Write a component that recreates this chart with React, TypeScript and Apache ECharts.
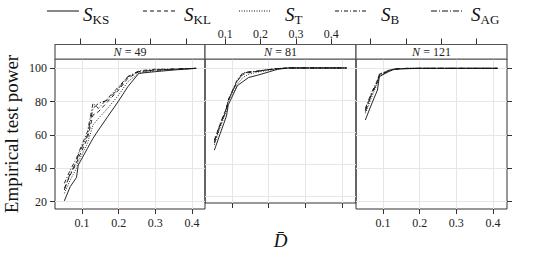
import React, { useEffect, useRef } from "react";
import * as echarts from "echarts";

// D-bar values (x) shared by all series
const dValues = [0.052, 0.068, 0.085, 0.09, 0.115, 0.13, 0.145, 0.17, 0.2, 0.225, 0.255, 0.3, 0.35, 0.412];

// Tick values
const xTicks = [0.1, 0.2, 0.3, 0.4];
const yTicks = [20, 40, 60, 80, 100];

// Panels
const panelLabels = ["49", "81", "121"];

// Series names (subscripts of S)
const seriesKeys = ["KS", "KL", "T", "B", "AG"];

// N = 49
const n49KS = [20.5, 29, 34.5, 42, 52, 58, 63, 71, 80.5, 89, 97, 98, 99, 100];
const n49KL = [28, 36, 43, 46, 58, 72, 74, 80, 87, 94, 98, 99, 99.5, 100];
const n49T = [25, 33, 40, 44, 55, 66, 70, 76, 84, 92, 97, 98.5, 99.5, 100];
const n49B = [31, 39, 46, 49, 62, 79, 76, 82, 89, 95, 98.5, 99.5, 99.5, 100];
const n49AG = [27, 37, 44, 48, 60, 76, 79, 81, 88, 95, 98, 99, 99.5, 100];

// N = 81
const n81KS = [48.6, 59, 70, 77, 89, 91.5, 94, 95.5, 97.5, 99.2, 100, 100, 100, 100];
const n81KL = [55, 65, 75, 80, 92, 96, 97, 98, 99, 99.5, 100, 100, 100, 100];
const n81T = [52, 63, 73, 79, 90, 94, 96, 97.5, 98.5, 99.5, 100, 100, 100, 100];
const n81B = [53, 64, 74, 80, 93, 97, 97.5, 98, 99, 99.7, 100, 100, 100, 100];
const n81AG = [54, 65, 75, 80, 92, 96.5, 97.5, 98, 99, 99.5, 100, 100, 100, 100];

// N = 121
const n121KS = [69, 78, 87, 95, 98, 99.4, 99.6, 99.8, 100, 100, 100, 100, 100, 100];
const n121KL = [75, 84, 92, 96, 98.5, 99.5, 99.8, 100, 100, 100, 100, 100, 100, 100];
const n121T = [73, 82, 91, 95.5, 98, 99.3, 99.7, 99.9, 100, 100, 100, 100, 100, 100];
const n121B = [76, 85, 93, 96.5, 98.8, 99.6, 99.8, 100, 100, 100, 100, 100, 100, 100];
const n121AG = [74, 84, 92, 96, 98.5, 99.5, 99.8, 100, 100, 100, 100, 100, 100, 100];

const panelData = [
  [n49KS, n49KL, n49T, n49B, n49AG],
  [n81KS, n81KL, n81T, n81B, n81AG],
  [n121KS, n121KL, n121T, n121B, n121AG],
];

const FONT = "'Liberation Serif', 'DejaVu Serif', serif";
const dashes: any[] = ["solid", [4, 3], [1, 1.5], [4, 2, 1, 2], [6, 2, 1, 2]];

export default function App() {
  const ref = useRef<HTMLDivElement>(null);
  useEffect(() => {
    if (!ref.current) return;
    const chart = echarts.init(ref.current, null, { renderer: "svg" });
    const lefts = [55, 205, 356];
    const widths = [150, 151, 151];
    const top = 59;
    const height = 150;
    const pxPerUnit = 367;
    const bottomMin = 0.0265;
    const topMins = [0.0292, 0.0425, 0.0584];
    const topPx = 353;

    const grids = lefts.map((l, i) => ({
      left: l,
      top,
      width: widths[i],
      height,
      show: true,
      borderColor: "#333",
      borderWidth: 1,
    }));

    const xAxes: any[] = [];
    lefts.forEach((l, i) => {
      xAxes.push({
        type: "value",
        gridIndex: i,
        position: "bottom",
        min: bottomMin,
        max: bottomMin + widths[i] / pxPerUnit,
        axisLine: { show: false },
        axisTick: { show: true, length: 5, customValues: xTicks, lineStyle: { color: "#333" } },
        axisLabel: {
          show: i !== 1,
          customValues: xTicks,
          formatter: (v: number) => v.toFixed(1),
          fontFamily: FONT,
          fontSize: 12,
          color: "#222",
          margin: 8,
        },
        splitLine: { show: true, lineStyle: { color: "#e6e6e6", width: 1 } },
        name: i === 1 ? "D\u0304" : "",
        nameLocation: "middle",
        nameGap: 28,
        nameTextStyle: { fontFamily: FONT, fontSize: 19, fontStyle: "italic", color: "#111" },
      });
    });
    lefts.forEach((l, i) => {
      xAxes.push({
        type: "value",
        gridIndex: i,
        position: "top",
        offset: 14.5,
        min: topMins[i],
        max: topMins[i] + widths[i] / topPx,
        axisLine: { show: false },
        axisTick: { show: true, length: 6, customValues: xTicks, lineStyle: { color: "#333" } },
        axisLabel: {
          show: i === 1,
          customValues: xTicks,
          formatter: (v: number) => v.toFixed(1),
          fontFamily: FONT,
          fontSize: 12,
          color: "#222",
          margin: 5,
        },
        splitLine: { show: false },
      });
    });

    const yAxes = lefts.map((l, i) => ({
      type: "value",
      gridIndex: i,
      position: i === 2 ? "right" : "left",
      min: 15.6,
      max: 105.6,
      axisLine: { show: false },
      axisTick: { show: i !== 1, length: 5, customValues: yTicks, lineStyle: { color: "#333" } },
      axisLabel: {
        show: i === 0,
        customValues: yTicks,
        fontFamily: FONT,
        fontSize: 12,
        color: "#222",
        margin: 8,
      },
      splitLine: { show: true, lineStyle: { color: "#e6e6e6", width: 1 } },
      name: i === 0 ? "Empirical test power" : "",
      nameLocation: "middle",
      nameGap: 34,
      nameTextStyle: { fontFamily: FONT, fontSize: 19, color: "#111" },
    }));

    const series: any[] = [];
    panelData.forEach((arrs, p) => {
      arrs.forEach((arr, s) => {
        series.push({
          type: "line",
          name: "S" + seriesKeys[s],
          xAxisIndex: p,
          yAxisIndex: p,
          data: dValues.map((d, j) => [d, arr[j]]),
          symbol: "none",
          showSymbol: false,
          lineStyle: { color: "#111", width: 0.9, type: dashes[s] },
          z: 3,
        });
      });
    });

    const graphics: any[] = [];
    // strips
    lefts.forEach((l, i) => {
      graphics.push({
        type: "rect",
        shape: { x: l, y: 44.5, width: widths[i], height: 14.5 },
        style: { fill: "#fff", stroke: "#555", lineWidth: 1.2 },
        z: 10,
      });
      graphics.push({
        type: "text",
        x: l + widths[i] / 2,
        y: 52,
        style: {
          text: "{i|N}{r| = " + panelLabels[i] + "}",
          rich: {
            i: { fontStyle: "italic", fontFamily: FONT, fontSize: 12, fill: "#222" },
            r: { fontFamily: FONT, fontSize: 12, fill: "#222" },
          },
          fontFamily: FONT,
          fontSize: 12,
          fill: "#222",
          align: "center",
          verticalAlign: "middle",
        },
        z: 11,
      });
    });
    // legend
    const legLines = [[47, 79], [143, 175], [239, 271], [335, 367], [431, 463]];
    const legTextX = [83, 184, 285, 381, 471];
    seriesKeys.forEach((k, s) => {
      const d = dashes[s];
      graphics.push({
        type: "line",
        shape: { x1: legLines[s][0], y1: 11, x2: legLines[s][1], y2: 11 },
        style: { stroke: "#111", lineWidth: 1, lineDash: d === "solid" ? null : d },
      });
      graphics.push({
        type: "text",
        x: legTextX[s],
        y: 14,
        style: {
          text: "{s|S}{b|" + k + "}",
          rich: {
            s: { fontFamily: FONT, fontSize: 19, fontStyle: "italic", fill: "#111", verticalAlign: "bottom" },
            b: { fontFamily: FONT, fontSize: 13, fill: "#111", verticalAlign: "bottom", padding: [0, 0, -2, 0] },
          },
          align: "left",
          verticalAlign: "middle",
        },
      });
    });

    chart.setOption({
      animation: false,
      backgroundColor: "#fff",
      grid: grids,
      xAxis: xAxes,
      yAxis: yAxes,
      series,
      graphic: graphics,
    });
    return () => chart.dispose();
  }, []);
  return <div ref={ref} style={{ width: 540, height: 255, position: "absolute", left: 0, top: 0 }} />;
}
